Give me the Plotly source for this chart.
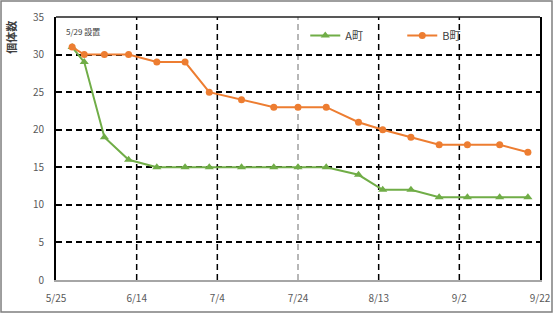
import plotly.graph_objects as go

dates = ["2023-05-29", "2023-06-01", "2023-06-06", "2023-06-12", "2023-06-19", "2023-06-26",
         "2023-07-02", "2023-07-10", "2023-07-18", "2023-07-24", "2023-07-31", "2023-08-08",
         "2023-08-14", "2023-08-21", "2023-08-28", "2023-09-04", "2023-09-12", "2023-09-19"]
town_a = [31, 29, 19, 16, 15, 15, 15, 15, 15, 15, 15, 14, 12, 12, 11, 11, 11, 11]
town_b = [31, 30, 30, 30, 29, 29, 25, 24, 23, 23, 23, 21, 20, 19, 18, 18, 18, 17]
tick_dates = ["2023-05-25", "2023-06-14", "2023-07-04", "2023-07-24", "2023-08-13", "2023-09-02", "2023-09-22"]
tick_labels = ["5/25", "6/14", "7/4", "7/24", "8/13", "9/2", "9/22"]
grid_colors = ["black", "black", "black", "#a0a0a0", "black", "black", "black"]
y_ticks = [0, 5, 10, 15, 20, 25, 30, 35]

GREEN = "#70AD47"
ORANGE = "#ED7D31"
FONT = "Noto Sans CJK JP"

fig = go.Figure()
fig.add_trace(go.Scatter(x=dates, y=town_a, mode="lines+markers", name="A町",
                         line=dict(color=GREEN, width=2),
                         marker=dict(symbol="triangle-up", size=8, color=GREEN)))
fig.add_trace(go.Scatter(x=dates, y=town_b, mode="lines+markers", name="B町",
                         line=dict(color=ORANGE, width=2),
                         marker=dict(symbol="circle", size=7, color=ORANGE)))

shapes = []
for d, c in zip(tick_dates[1:-1], grid_colors[1:-1]):
    shapes.append(dict(type="line", xref="x", yref="paper", x0=d, x1=d, y0=0, y1=1,
                       line=dict(color=c, width=1.5, dash="6px,4px"), layer="below"))
# top border of plot area
shapes.append(dict(type="line", xref="paper", yref="paper", x0=0, x1=1, y0=1, y1=1,
                   line=dict(color="#202020", width=1.5)))
# outer chart border
shapes.append(dict(type="rect", xref="paper", yref="paper", x0=-0.1136, x1=1.0248,
                   y0=-0.1217, y1=1.0608, line=dict(color="#7f7f7f", width=1.5)))

fig.update_layout(
    width=560, height=314,
    margin=dict(l=56, r=20, t=17, b=34, autoexpand=False),
    paper_bgcolor="white", plot_bgcolor="white",
    font=dict(family=FONT, size=10, color="#595959"),
    shapes=shapes,
    showlegend=True,
    legend=dict(orientation="h", x=0.515, y=0.985, xanchor="left", yanchor="top",
                bgcolor="rgba(0,0,0,0)", entrywidth=52, entrywidthmode="pixels",
                font=dict(size=11, color="#404040", family=FONT), itemwidth=30),
    xaxis=dict(type="date", range=[tick_dates[0], tick_dates[-1]],
               tickvals=tick_dates, ticktext=tick_labels, showgrid=False,
               showline=True, linecolor="#a6a6a6", linewidth=2,
               ticks="", ticklabelstandoff=8, tickfont=dict(size=10, color="#595959"),
               zeroline=False, automargin=False),
    yaxis=dict(range=[0, 35], tickvals=y_ticks, showgrid=True, gridcolor="black",
               gridwidth=1.5, griddash="6px,4px",
               showline=True, linecolor="black", linewidth=2, mirror=True,
               ticks="", ticklabelstandoff=8, tickfont=dict(size=10, color="#595959"),
               zeroline=False, automargin=False),
    annotations=[
        dict(text="5/29 設置", xref="paper", yref="paper", x=0.016, y=0.945,
             xanchor="left", yanchor="middle", showarrow=False,
             font=dict(size=8, color="#404040", family=FONT)),
        dict(text="<b>個体数</b>", xref="paper", yref="paper", x=-0.093, y=0.925,
             xanchor="center", yanchor="middle", showarrow=False, textangle=-90,
             font=dict(size=11, color="#404040", family=FONT)),
    ],
)

fig.write_html("out.html")
